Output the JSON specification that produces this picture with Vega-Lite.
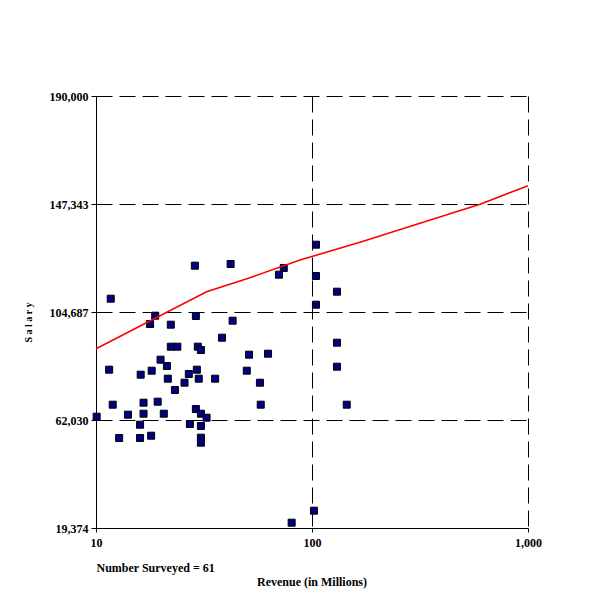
{
  "$schema": "https://vega.github.io/schema/vega-lite/v6.json",
  "width": 432,
  "height": 432,
  "autosize": {"type": "none"},
  "padding": {"left": 96, "top": 96, "right": 72, "bottom": 72},
  "background": "white",
  "title": {
    "text": "Revenue (in Millions)",
    "orient": "bottom",
    "anchor": "middle",
    "frame": "group",
    "offset": 4,
    "font": "Liberation Serif",
    "fontSize": 12,
    "fontWeight": "bold",
    "color": "black"
  },
  "config": {
    "view": {"stroke": null},
    "axis": {
      "labelFont": "Liberation Serif",
      "labelFontSize": 12,
      "labelFontWeight": "bold",
      "labelColor": "black",
      "labelFlush": false,
      "titleFont": "Liberation Serif",
      "titleFontWeight": "bold",
      "titleColor": "black",
      "domainColor": "black",
      "tickColor": "black",
      "gridColor": "black",
      "gridOpacity": 1,
      "gridDash": [16, 7],
      "gridWidth": 1
    }
  },
  "datasets": {
    "points": [
      {"revenue": 28.7, "salary": 122975},
      {"revenue": 42.0, "salary": 123646},
      {"revenue": 11.7, "salary": 109940},
      {"revenue": 18.8, "salary": 103226},
      {"revenue": 29.0, "salary": 103108},
      {"revenue": 17.8, "salary": 99948},
      {"revenue": 42.9, "salary": 101251},
      {"revenue": 22.2, "salary": 99671},
      {"revenue": 38.3, "salary": 94537},
      {"revenue": 22.2, "salary": 90982},
      {"revenue": 23.8, "salary": 90982},
      {"revenue": 29.6, "salary": 90982},
      {"revenue": 30.6, "salary": 89679},
      {"revenue": 51.1, "salary": 87822},
      {"revenue": 19.9, "salary": 85847},
      {"revenue": 21.3, "salary": 83359},
      {"revenue": 11.5, "salary": 81898},
      {"revenue": 18.1, "salary": 81503},
      {"revenue": 29.3, "salary": 81898},
      {"revenue": 49.9, "salary": 81503},
      {"revenue": 16.1, "salary": 79923},
      {"revenue": 26.9, "salary": 80199},
      {"revenue": 21.5, "salary": 78343},
      {"revenue": 29.9, "salary": 78343},
      {"revenue": 35.6, "salary": 78343},
      {"revenue": 25.7, "salary": 76763},
      {"revenue": 23.2, "salary": 73880},
      {"revenue": 11.95, "salary": 68074},
      {"revenue": 16.6, "salary": 68864},
      {"revenue": 19.3, "salary": 69259},
      {"revenue": 29.0, "salary": 66375},
      {"revenue": 10.07, "salary": 63334},
      {"revenue": 14.06, "salary": 64124},
      {"revenue": 16.6, "salary": 64519},
      {"revenue": 20.6, "salary": 64519},
      {"revenue": 30.6, "salary": 64519},
      {"revenue": 32.5, "salary": 62939},
      {"revenue": 16.0, "salary": 60174},
      {"revenue": 27.2, "salary": 60451},
      {"revenue": 30.6, "salary": 59661},
      {"revenue": 12.8, "salary": 54921},
      {"revenue": 16.0, "salary": 54921},
      {"revenue": 18.0, "salary": 55830},
      {"revenue": 30.6, "salary": 55040},
      {"revenue": 30.6, "salary": 53065},
      {"revenue": 104.3, "salary": 131269},
      {"revenue": 74.0, "salary": 122066},
      {"revenue": 70.3, "salary": 119420},
      {"revenue": 104.3, "salary": 118906},
      {"revenue": 130.5, "salary": 112705},
      {"revenue": 104.3, "salary": 107571},
      {"revenue": 130.5, "salary": 92562},
      {"revenue": 62.6, "salary": 88217},
      {"revenue": 130.5, "salary": 83083},
      {"revenue": 57.4, "salary": 76763},
      {"revenue": 57.9, "salary": 68074},
      {"revenue": 144.8, "salary": 68074},
      {"revenue": 102.1, "salary": 26207},
      {"revenue": 80.5, "salary": 21467}
    ],
    "trend": [
      {"revenue": 10, "salary": 90192},
      {"revenue": 32.5, "salary": 112705},
      {"revenue": 51.6, "salary": 118235},
      {"revenue": 88.0, "salary": 125226},
      {"revenue": 166.8, "salary": 132217},
      {"revenue": 316.2, "salary": 139721},
      {"revenue": 599.5, "salary": 147226},
      {"revenue": 1000, "salary": 154572}
    ]
  },
  "encoding": {
    "x": {
      "field": "revenue",
      "type": "quantitative",
      "scale": {"type": "log", "domain": [10, 1000], "nice": false},
      "axis": {
        "values": [10, 100, 1000],
        "format": ",.0f",
        "tickSize": 4,
        "labelPadding": 5,
        "title": "Number Surveyed = 61",
        "titleFontSize": 12,
        "titleAnchor": "start",
        "titleAlign": "left",
        "titleBaseline": "middle",
        "titleX": 0,
        "titleY": 39
      }
    },
    "y": {
      "field": "salary",
      "type": "quantitative",
      "scale": {"domain": [19374, 190000], "nice": false, "zero": false},
      "axis": {
        "values": [19374, 62030, 104687, 147343, 190000],
        "format": ",.0f",
        "tickSize": 5,
        "labelPadding": 3,
        "title": "S a l a r y",
        "titleFontSize": 10,
        "titleX": -63,
        "titleY": 226
      }
    }
  },
  "layer": [
    {
      "data": {"name": "points"},
      "mark": {
        "type": "point",
        "shape": "square",
        "filled": true,
        "size": 49,
        "fill": "#000080",
        "stroke": "black",
        "strokeWidth": 1,
        "opacity": 1
      }
    },
    {
      "data": {"name": "trend"},
      "mark": {"type": "line", "color": "#ff0000", "strokeWidth": 1.6}
    }
  ]
}
